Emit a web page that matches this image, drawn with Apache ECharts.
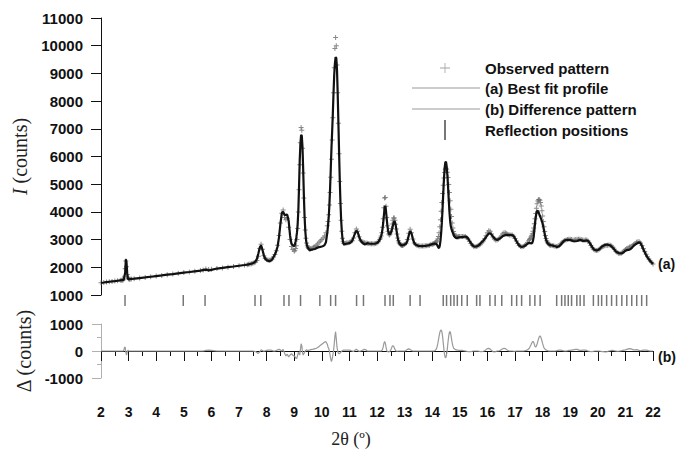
<!DOCTYPE html>
<html>
<head>
<meta charset="utf-8">
<script src="https://cdn.jsdelivr.net/npm/echarts@6/dist/echarts.min.js"></script>
<style>
  html, body { margin: 0; padding: 0; background: #fff; }
  #chart { width: 680px; height: 453px; }
</style>
</head>
<body>
<div id="chart"></div>
<script>
// Powder diffraction pattern: observed counts and difference (obs - calc) on a shared 2θ grid.
const twoTheta = [
  2.0, 2.1, 2.2, 2.3, 2.4, 2.5, 2.6, 2.7,
  2.75, 2.775, 2.8, 2.825, 2.85, 2.875, 2.9, 2.925, 2.95, 2.975, 3.0, 3.025, 3.05,
  3.1, 3.2, 3.4, 3.6, 3.8, 4.0, 4.2, 4.4, 4.6, 4.8, 5.0, 5.2, 5.4, 5.6, 5.7, 5.8, 5.9, 6.0, 6.2, 6.4, 6.6, 6.8, 7.0, 7.2,
  7.3, 7.35, 7.4, 7.45, 7.5, 7.55, 7.6, 7.65, 7.7, 7.75, 7.8, 7.85, 7.9, 7.95, 8.0, 8.05, 8.1, 8.15, 8.2, 8.25,
  8.3, 8.35, 8.4, 8.45, 8.5, 8.55, 8.6, 8.65, 8.7, 8.75, 8.8, 8.85, 8.9, 8.95,
  9.0, 9.025, 9.05, 9.075, 9.1, 9.125, 9.15, 9.175, 9.2, 9.225, 9.25, 9.275, 9.3, 9.325, 9.35, 9.375, 9.4, 9.425, 9.45, 9.475, 9.5, 9.525, 9.55, 9.575, 9.6,
  9.65, 9.7, 9.75, 9.8, 9.85, 9.9, 9.95, 10.0, 10.05, 10.1, 10.15, 10.2,
  10.225, 10.25, 10.275, 10.3, 10.325, 10.35, 10.375, 10.4, 10.425, 10.45, 10.475, 10.5, 10.525, 10.55, 10.575, 10.6, 10.625, 10.65, 10.675, 10.7, 10.725, 10.75, 10.775, 10.8,
  10.85, 10.9, 10.95, 11.0, 11.05, 11.1, 11.15, 11.2, 11.25, 11.3, 11.35, 11.4, 11.45, 11.5, 11.55, 11.6, 11.65, 11.7, 11.75, 11.8, 11.85, 11.9, 11.95, 12.0, 12.05, 12.1,
  12.125, 12.15, 12.175, 12.2, 12.225, 12.25, 12.275, 12.3, 12.325, 12.35, 12.375, 12.4, 12.425, 12.45, 12.475, 12.5, 12.525, 12.55, 12.575, 12.6, 12.625, 12.65, 12.675, 12.7, 12.725, 12.75, 12.775, 12.8, 12.825, 12.85, 12.875, 12.9, 12.925, 12.95,
  13.0, 13.05, 13.1, 13.15, 13.2, 13.25, 13.3, 13.35, 13.4, 13.45, 13.5, 13.55, 13.6, 13.65, 13.7, 13.75, 13.8, 13.85, 13.9, 13.95, 14.0,
  14.025, 14.05, 14.075, 14.1, 14.125, 14.15, 14.175, 14.2, 14.225, 14.25, 14.275, 14.3, 14.325, 14.35, 14.375, 14.4, 14.425, 14.45, 14.475, 14.5,
  14.525, 14.55, 14.575, 14.6, 14.625, 14.65, 14.675, 14.7, 14.725, 14.75, 14.775, 14.8, 14.825, 14.85, 14.875, 14.9, 14.925, 14.95, 14.975, 15.0,
  15.05, 15.1, 15.15, 15.2, 15.25, 15.3, 15.35, 15.4, 15.45, 15.5, 15.55, 15.6, 15.65, 15.7, 15.75, 15.8, 15.85, 15.9, 15.95, 16.0,
  16.05, 16.1, 16.15, 16.2, 16.25, 16.3, 16.35, 16.4, 16.45, 16.5, 16.55, 16.6, 16.65, 16.7, 16.75, 16.8, 16.85, 16.9, 16.95, 17.0,
  17.05, 17.1, 17.15, 17.2, 17.25, 17.3, 17.35, 17.4, 17.45, 17.5,
  17.525, 17.55, 17.575, 17.6, 17.625, 17.65, 17.675, 17.7, 17.725, 17.75, 17.775, 17.8, 17.825, 17.85, 17.875, 17.9,
  17.925, 17.95, 17.975, 18.0, 18.025, 18.05, 18.075, 18.1, 18.125, 18.15, 18.175, 18.2, 18.225, 18.25, 18.275, 18.3,
  18.35, 18.4, 18.45, 18.5, 18.55, 18.6, 18.65, 18.7, 18.75, 18.8,
  18.85, 18.9, 18.95, 19.0, 19.05, 19.1, 19.15, 19.2, 19.25, 19.3,
  19.35, 19.4, 19.45, 19.5, 19.55, 19.6, 19.65, 19.7, 19.75, 19.8,
  19.85, 19.9, 19.95, 20.0, 20.05, 20.1, 20.15, 20.2, 20.25, 20.3,
  20.35, 20.4, 20.45, 20.5, 20.55, 20.6, 20.65, 20.7, 20.75, 20.8,
  20.85, 20.9, 20.95, 21.0, 21.05, 21.1, 21.15, 21.2, 21.25, 21.3,
  21.35, 21.4, 21.45, 21.5, 21.55, 21.6, 21.65, 21.7, 21.75, 21.8,
  21.85, 21.9, 21.95, 22.0
];

const observed = [
  1440, 1452, 1465, 1478, 1490, 1502, 1515, 1528,
  1534, 1538, 1546, 1575, 1680, 1950, 2230, 2020, 1740, 1625, 1585, 1572, 1572,
  1580, 1588, 1612, 1634, 1660, 1684, 1706, 1733, 1755, 1782, 1808, 1830, 1856, 1880, 1900, 1935, 1920, 1928, 1955, 1978, 2006, 2030, 2056, 2082,
  2096, 2108, 2120, 2132, 2146, 2165, 2192, 2250, 2400, 2680, 2830, 2650, 2420, 2320, 2280, 2260, 2255, 2265, 2300, 2370,
  2460, 2600, 2800, 3150, 3600, 3950, 4070, 3800, 3720, 3770, 3450, 3000, 2750, 2640,
  2580, 2620, 2680, 2780, 3000, 3400, 4000, 4800, 5700, 6500, 7050, 6950, 6300, 5400, 4500, 3800, 3350, 3050, 2880, 2780, 2720, 2680, 2660, 2660, 2680,
  2700, 2720, 2750, 2790, 2840, 2900, 2950, 3000, 3060, 3130, 3250, 3500,
  3650, 3900, 4250, 4700, 5250, 5900, 6600, 7400, 8300, 9200, 9900, 10300, 10000, 9300, 8300, 7200, 6100, 5100, 4300, 3700, 3300, 3050, 2920, 2860,
  2870, 2880, 2890, 2900, 2920, 2960, 3060, 3250, 3380, 3300, 3100, 2980, 2930, 2900, 2890, 2880, 2870, 2860, 2850, 2850, 2850, 2850, 2860, 2880, 2920, 3000,
  3060, 3130, 3250, 3450, 3750, 4150, 4500, 4520, 4200, 3800, 3500, 3300, 3200, 3170, 3200, 3280, 3400, 3560, 3700, 3780, 3780, 3700, 3550, 3380, 3200, 3060, 2960, 2890, 2850, 2820, 2800, 2790, 2790, 2800,
  2820, 2870, 3000, 3230, 3370, 3250, 3020, 2880, 2820, 2790, 2775, 2770, 2765, 2765, 2770, 2775, 2780, 2790, 2800, 2820, 2835,
  2840, 2850, 2860, 2875, 2895, 2920, 2960, 3020, 3110, 3250, 3460, 3720, 4020, 4340, 4660, 4960, 5220, 5420, 5540, 5580,
  5540, 5430, 5240, 4990, 4700, 4400, 4100, 3830, 3600, 3420, 3290, 3200, 3150, 3120, 3100, 3095, 3095, 3100, 3105, 3110,
  3110, 3110, 3115, 3110, 3080, 3020, 2940, 2860, 2800, 2760, 2745, 2750, 2770, 2800, 2840, 2890, 2950, 3030, 3140, 3250,
  3320, 3300, 3200, 3090, 3020, 2990, 2990, 3010, 3060, 3130, 3200, 3245, 3250, 3220, 3180, 3165, 3170, 3165, 3120, 3040,
  2950, 2860, 2790, 2750, 2740, 2750, 2780, 2830, 2890, 2960,
  3000, 3040, 3090, 3140, 3210, 3300, 3420, 3570, 3750, 3940, 4130, 4290, 4390, 4440, 4450, 4420,
  4340, 4210, 4040, 3850, 3650, 3460, 3290, 3150, 3040, 2960, 2900, 2860, 2830, 2810, 2800, 2795,
  2790, 2775, 2760, 2750, 2760, 2790, 2840, 2890, 2940, 2970,
  2990, 3000, 3010, 3010, 3000, 2990, 2990, 3000, 3010, 3010,
  3010, 3000, 2985, 2980, 2990, 2990, 2950, 2880, 2790, 2710,
  2650, 2620, 2610, 2620, 2650, 2690, 2730, 2760, 2780, 2790,
  2800, 2805, 2800, 2770, 2720, 2650, 2580, 2530, 2505, 2500,
  2510, 2540, 2590, 2640, 2680, 2710, 2730, 2750, 2780, 2820,
  2860, 2900, 2920, 2920, 2880, 2790, 2680, 2570, 2470, 2380,
  2300, 2230, 2170, 2120
];

const difference = [
  0, 0, 0, 0, 0, 0, 0, 0,
  0, 0, 0, 20, 120, 150, -60, -150, -40, 30, 10, 0, 0,
  0, 0, 0, 0, 0, 0, 0, 0, 0, 0, 0, 0, 0, 0, 0, 20, 30, 20, 0, 0, 0, 0, 0, 0,
  0, 0, 0, 0, 0, -10, -20, -60, -90, -30, 40, 20, -10, 10, 20, 30, 30, 30, 20, 0,
  0, 20, 40, 60, 40, 0, 60, -80, -180, -120, -220, -150, -100, -160,
  -180, -200, -250, -280, -250, -150, -50, -100, -150, 50, 270, 200, -50, -150, -100, -50, 0, 30, 40, 30, 20, 20, 30, 40, 50,
  60, 70, 90, 100, 130, 170, 210, 250, 290, 330, 345, 250,
  150, 100, 0, -150, -300, -395, -300, -150, 0, 250, 550, 715, 450, 150, 0, -80, -100, -90, -60, -30, 0, 20, 30, 30,
  30, 30, 30, 30, 20, 0, -20, 30, 60, 30, -10, 0, 20, 40, 60, 40, 0, 0, 0, 0, 0, 0, 0, 0, 0, 0,
  0, 0, 20, 60, 150, 280, 350, 300, 150, 30, -20, -30, -30, -20, 0, 40, 100, 170, 200, 180, 120, 60, 20, 0, -10, -10, 0, 0, 0, 0, 0, 0, 0, 0,
  0, 20, 60, 80, 60, 20, 0, 0, 0, 0, 0, 0, 0, 0, 0, 0, 0, 0, 0, 0, 0,
  0, 0, 10, 20, 40, 80, 150, 260, 400, 550, 680, 760, 780, 720, 550, 300, 50, -150, -250, -230,
  -100, 100, 350, 560, 700, 720, 620, 450, 300, 180, 110, 80, 60, 50, 40, 30, 30, 30, 20, 20,
  20, 20, 10, 0, -10, -20, -20, -20, -10, 0, 0, 0, 0, -10, -20, -20, -10, 10, 50, 90,
  100, 70, 20, -20, -30, -20, 0, 0, 20, 50, 80, 100, 90, 50, 20, 0, 0, 0, -10, -10,
  0, 0, 0, 0, 0, 0, 10, 20, 40, 80,
  120, 170, 220, 280, 330, 350, 330, 250, 170, 150, 180, 260, 350, 440, 520, 560,
  540, 470, 380, 280, 190, 120, 80, 60, 40, 30, 20, 10, 0, 0, 0, 0,
  0, 0, 0, 10, 20, 30, 30, 20, 10, 0,
  0, 10, 20, 20, 30, 40, 50, 60, 60, 40,
  20, 20, 30, 30, 30, 20, 0, -10, -20, -20,
  -10, 0, 0, 0, 0, -10, -20, -20, -30, -30,
  -20, 0, 10, 20, 20, 10, 0, -10, -10, 0,
  10, 20, 30, 40, 60, 80, 90, 80, 60, 40,
  40, 50, 40, 20, 10, 20, 30, 30, 30, 20,
  10, 0, 0, 0
];

// Bragg reflection positions (2θ, degrees)
const reflections = [
  2.87, 4.98, 5.77, 7.58, 7.79, 8.63, 8.81, 9.23, 9.93, 10.32, 10.50, 11.26, 11.51,
  12.29, 12.47, 12.59, 13.20, 13.56,
  14.40, 14.52, 14.67, 14.79, 14.91, 15.07, 15.27,
  15.61, 15.73, 16.09, 16.28, 16.52,
  16.88, 17.06, 17.24, 17.54, 17.72, 17.91,
  18.51, 18.69, 18.81, 18.93, 19.05, 19.24, 19.36, 19.50,
  19.84, 20.02, 20.14, 20.32, 20.50, 20.68, 20.87, 21.05, 21.23, 21.41, 21.59, 21.77
];

const obsPoints = twoTheta.map((t, i) => [t, observed[i]]);
const fitPoints = twoTheta.map((t, i) => [t, observed[i] - difference[i]]);
const diffPoints = twoTheta.map((t, i) => [t, difference[i]]);
const tickPoints = reflections.map(t => [t, 0.5]);

const sans = "'Liberation Sans', Arial, Helvetica, sans-serif";
const serif = "'Liberation Serif', 'Times New Roman', Times, serif";
const ink = '#111';
const plain = v => String(v);

const plusSymbol = 'path://M4,0H6V4H10V6H6V10H4V6H0V4H4Z';
const plusIcon = 'path://M4.6,0H5.4V4.6H10V5.4H5.4V10H4.6V5.4H0V4.6H4.6Z';
const barIcon = 'path://M0,0H1V10H0Z';
const lineIcon = 'path://M0,0H68V1H0Z';

// One legend block per row so each row can carry its own marker geometry.
function legendRow(name, icon, top, opts) {
  return {
    left: opts.left, top: top, padding: 0,
    itemWidth: opts.w, itemHeight: opts.h,
    selectedMode: false,
    itemStyle: { color: opts.color },
    textStyle: {
      fontFamily: sans, fontSize: 15, fontWeight: 'bold', color: ink,
      lineHeight: 16, padding: [0, 0, 0, opts.pad]
    },
    data: [{ name: name, icon: icon }]
  };
}

const chart = echarts.init(document.getElementById('chart'), null, { renderer: 'svg' });

chart.setOption({
  animation: false,
  backgroundColor: '#fff',
  legend: [
    legendRow('Observed pattern', plusIcon, 60, { left: 440, w: 10, h: 10, pad: 30, color: '#8c8c8c' }),
    legendRow('(a) Best fit profile', lineIcon, 80, { left: 412, w: 68, h: 10, pad: 0, color: '#9a9a9a' }),
    legendRow('(b) Difference pattern', lineIcon, 101, { left: 412, w: 68, h: 10, pad: 0, color: '#9a9a9a' }),
    legendRow('Reflection positions', barIcon, 120, { left: 444, w: 2, h: 20, pad: 34, color: '#555' })
  ],
  grid: [
    { left: 101, right: 27, top: 18, height: 277 },
    { left: 101, right: 27, top: 294, height: 13 },
    { left: 101, right: 27, top: 324, height: 54 }
  ],
  xAxis: [
    { gridIndex: 0, type: 'value', min: 2, max: 22, show: false },
    { gridIndex: 1, type: 'value', min: 2, max: 22, show: false },
    {
      gridIndex: 2, type: 'value', min: 2, max: 22, interval: 1, offset: 14,
      axisLine: { lineStyle: { color: ink, width: 1 } },
      axisTick: { length: 10, lineStyle: { color: ink } },
      minorTick: { show: true, splitNumber: 2, length: 5, lineStyle: { color: ink } },
      splitLine: { show: false },
      axisLabel: { margin: 13, fontSize: 14, fontWeight: 'bold', color: ink, fontFamily: sans, formatter: plain },
      name: '2θ (º)', nameLocation: 'middle', nameGap: 38,
      nameTextStyle: { fontFamily: serif, fontSize: 18, color: '#222', padding: [0, 52, 0, 0] }
    }
  ],
  yAxis: [
    {
      gridIndex: 0, type: 'value', min: 1000, max: 11000, interval: 1000,
      axisLine: { show: true, lineStyle: { color: ink } },
      axisTick: { show: true, length: 10, lineStyle: { color: ink } },
      splitLine: { show: false },
      axisLabel: { margin: 18, fontSize: 15, fontWeight: 'bold', color: ink, fontFamily: sans, formatter: plain },
      name: '{i|I} (counts)', nameLocation: 'middle', nameGap: 66, nameRotate: 90,
      nameTextStyle: {
        fontFamily: serif, fontSize: 20, color: '#222',
        rich: { i: { fontFamily: serif, fontSize: 20, fontStyle: 'italic', color: '#222' } }
      }
    },
    { gridIndex: 1, type: 'value', min: 0, max: 1, show: false },
    {
      gridIndex: 2, type: 'value', min: -1000, max: 1000, interval: 1000,
      axisLine: { show: true, lineStyle: { color: '#b0b0b0' } },
      axisTick: { show: true, length: 9, lineStyle: { color: '#b0b0b0' } },
      minorTick: { show: true, splitNumber: 2, length: 4, lineStyle: { color: '#b0b0b0' } },
      splitLine: { show: false },
      axisLabel: { margin: 18, fontSize: 15, fontWeight: 'bold', color: ink, fontFamily: sans, formatter: plain },
      name: 'Δ (counts)', nameLocation: 'middle', nameGap: 66, nameRotate: 90,
      nameTextStyle: { fontFamily: serif, fontSize: 20, color: '#222' }
    }
  ],
  series: [
    {
      name: 'Observed pattern', type: 'scatter', xAxisIndex: 0, yAxisIndex: 0,
      data: obsPoints, symbol: plusSymbol, symbolSize: 5, z: 1, silent: true,
      itemStyle: { color: '#6e6e6e' }
    },
    {
      name: '(a) Best fit profile', type: 'line', xAxisIndex: 0, yAxisIndex: 0,
      data: fitPoints, symbol: 'none', z: 2, silent: true,
      lineStyle: { color: '#111', width: 2.2 },
      endLabel: { show: true, formatter: '(a)', distance: 5, fontFamily: sans, fontSize: 14, fontWeight: 'bold', color: ink }
    },
    {
      name: 'Reflection positions', type: 'scatter', xAxisIndex: 1, yAxisIndex: 1,
      data: tickPoints, symbol: 'rect', symbolSize: [1.5, 11], silent: true,
      itemStyle: { color: '#555' }
    },
    {
      name: '(b) Difference pattern', type: 'line', xAxisIndex: 2, yAxisIndex: 2,
      data: diffPoints, symbol: 'none', silent: true,
      lineStyle: { color: '#9a9a9a', width: 1.2 },
      endLabel: { show: true, formatter: '(b)', distance: 5, offset: [0, 6], fontFamily: sans, fontSize: 14, fontWeight: 'bold', color: ink }
    }
  ]
});
</script>
</body>
</html>
